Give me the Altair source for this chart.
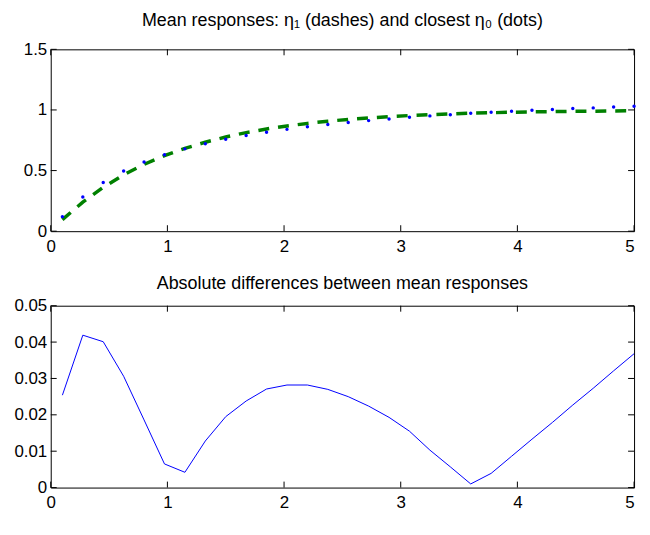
import altair as alt
import pandas as pd

# ---- data ----
x_vals = [0.1, 0.275, 0.45, 0.625, 0.8, 0.975, 1.15, 1.325, 1.5, 1.675,
          1.85, 2.025, 2.2, 2.375, 2.55, 2.725, 2.9, 3.075, 3.25, 3.425,
          3.6, 3.775, 3.95, 4.125, 4.3, 4.475, 4.65, 4.825, 5.0]
eta1 = [0.095, 0.240, 0.362, 0.465, 0.551, 0.623, 0.683, 0.734, 0.777, 0.813,
        0.843, 0.868, 0.889, 0.907, 0.922, 0.934, 0.945, 0.954, 0.961, 0.967,
        0.973, 0.977, 0.981, 0.984, 0.986, 0.989, 0.990, 0.992, 0.993]
eta0 = [0.120, 0.282, 0.402, 0.496, 0.570, 0.630, 0.679, 0.721, 0.758, 0.789,
        0.816, 0.840, 0.861, 0.880, 0.897, 0.912, 0.926, 0.939, 0.951, 0.961,
        0.972, 0.981, 0.990, 0.997, 1.004, 1.012, 1.017, 1.024, 1.030]
abs_diff = [0.0254, 0.0419, 0.0401, 0.0306, 0.0186, 0.0065, 0.0042, 0.0128, 0.0195, 0.0238,
            0.0271, 0.0282, 0.0282, 0.0270, 0.0250, 0.0224, 0.0193, 0.0155, 0.0103, 0.0057,
            0.0010, 0.0039, 0.0086, 0.0133, 0.0179, 0.0227, 0.0273, 0.0321, 0.0368]

x_ticks = [0, 1, 2, 3, 4, 5]
y_ticks_top = [0, 0.5, 1, 1.5]
y_ticks_bottom = [0, 0.01, 0.02, 0.03, 0.04, 0.05]

title_top = "Mean responses: η\u2081 (dashes) and closest η\u2080 (dots)"
title_bottom = "Absolute differences between mean responses"

# ---- styling ----
W, H = 587, 183
FONT = "Liberation Sans"
TICK = 6

df = pd.DataFrame({"x": x_vals, "eta1": eta1, "eta0": eta0, "diff": abs_diff})


def panel(ycol_layers, ydomain, yticks, title, title_offset):
    xs = alt.Scale(domain=[0, 5], nice=False, zero=False)
    ys = alt.Scale(domain=ydomain, nice=False, zero=False)
    xaxis = alt.Axis(
        values=x_ticks, format="d", labelPadding=7,
        labelAlign={"condition": {"test": "datum.value == 5", "value": "right"},
                    "value": "center"},
    )
    yaxis = alt.Axis(values=yticks, format="~g", labelPadding=4)

    def X(field):
        return alt.X(field, type="quantitative", scale=xs, axis=xaxis, title=None)

    def Y(field):
        return alt.Y(field, type="quantitative", scale=ys, axis=yaxis, title=None)

    layers = []
    for kind, col in ycol_layers:
        base = alt.Chart(df)
        if kind == "dash":
            m = base.mark_line(color="#008000", strokeWidth=3.5, strokeDash=[11, 9])
        elif kind == "dots":
            m = base.mark_circle(color="#0000ff", size=12, opacity=1)
        else:
            m = base.mark_line(color="#0000ff", strokeWidth=1)
        layers.append(m.encode(x=X("x"), y=Y(col)))

    xt = pd.DataFrame({"t": x_ticks})
    yt = pd.DataFrame({"t": yticks})
    rule = dict(color="black", strokeWidth=1)
    layers.append(alt.Chart(xt).mark_rule(**rule).encode(
        x=X("t"), y=alt.value(H), y2=alt.value(H - TICK)))
    layers.append(alt.Chart(xt).mark_rule(**rule).encode(
        x=X("t"), y=alt.value(0), y2=alt.value(TICK)))
    layers.append(alt.Chart(yt).mark_rule(**rule).encode(
        y=Y("t"), x=alt.value(0), x2=alt.value(TICK)))
    layers.append(alt.Chart(yt).mark_rule(**rule).encode(
        y=Y("t"), x=alt.value(W - TICK), x2=alt.value(W)))

    return alt.layer(*layers).properties(
        width=W, height=H,
        title=alt.TitleParams(title, offset=title_offset),
    )


top = panel([("dash", "eta1"), ("dots", "eta0")], [0, 1.5], y_ticks_top, title_top, 10)
bottom = panel([("line", "diff")], [0, 0.05], y_ticks_bottom, title_bottom, 4)

chart = alt.vconcat(top, bottom, spacing=19).properties(
    padding={"left": 5, "top": 2, "right": 0, "bottom": 0}
).configure_view(
    stroke="black", strokeWidth=1
).configure_axis(
    domain=False, ticks=False, grid=False,
    labelFont=FONT, labelFontSize=17, labelColor="black",
).configure_title(
    font=FONT, fontSize=18, fontWeight="normal", color="black", anchor="middle"
)

chart.save("out.html", embed_options={"renderer": "svg", "actions": False})
